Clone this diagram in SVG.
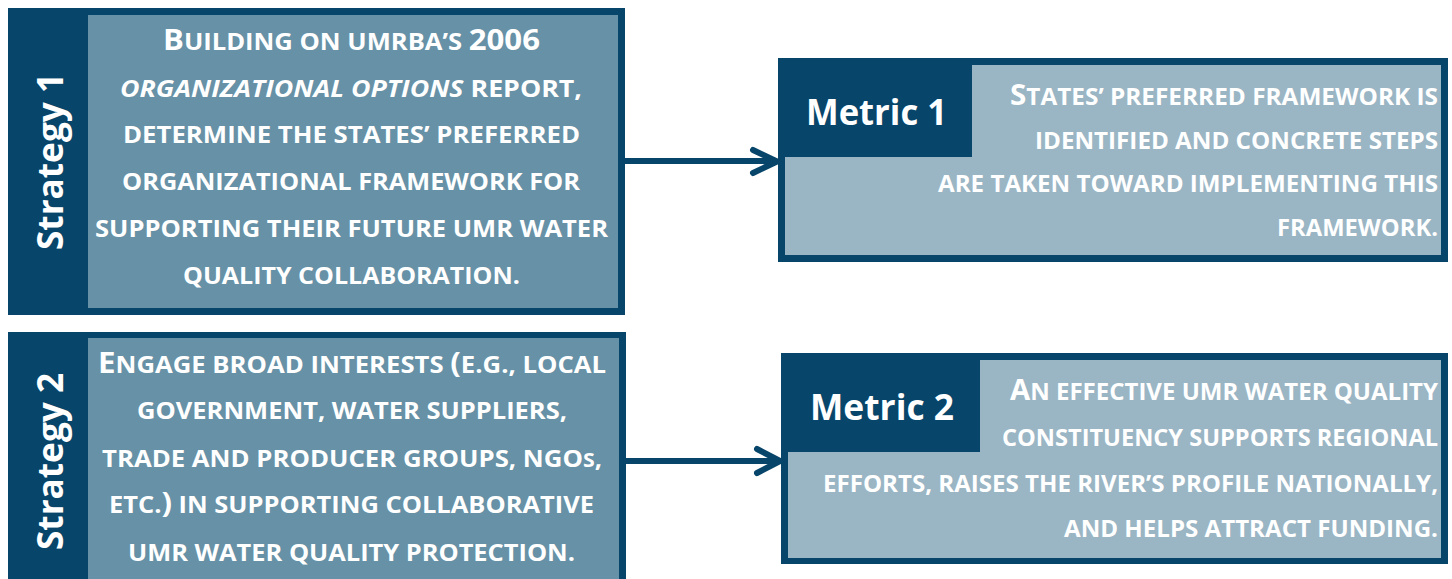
<svg xmlns="http://www.w3.org/2000/svg" width="1452" height="579" viewBox="0 0 1452 579">
<style>
.dark{fill:#08456a}
.spanel{fill:#6691a6}
.mpanel{fill:#9ab5c4}
.t{font-family:"Open Sans","DejaVu Sans",sans-serif;font-weight:700;fill:#ffffff;font-size:23px}
.L{font-size:28px}
.S{font-size:19px}
.lab{font-family:"Open Sans","DejaVu Sans",sans-serif;font-weight:700;fill:#ffffff;font-size:36px}
.conn{fill:none;stroke:#08456a;stroke-width:6;stroke-linecap:round;stroke-linejoin:round}
</style>
<rect width="1452" height="579" fill="#ffffff"/>
<g id="strategy1">
<rect class="dark" x="8" y="8" width="617" height="307"/>
<rect class="spanel" x="88" y="15" width="530" height="293"/>
<text class="lab" transform="translate(63,161.5) rotate(-90)" text-anchor="middle" textLength="177" lengthAdjust="spacingAndGlyphs">Strategy 1</text>
<text class="t" x="163" y="50" textLength="377" lengthAdjust="spacingAndGlyphs"><tspan class="L">B</tspan>UILDING ON UMRBA’S <tspan class="L">2006</tspan></text>
<text class="t" x="120" y="97" textLength="462" lengthAdjust="spacingAndGlyphs"><tspan font-style="italic">ORGANIZATIONAL OPTIONS</tspan> REPORT,</text>
<text class="t" x="123" y="143" textLength="457" lengthAdjust="spacingAndGlyphs">DETERMINE THE STATES’ PREFERRED</text>
<text class="t" x="122" y="190" textLength="458" lengthAdjust="spacingAndGlyphs">ORGANIZATIONAL FRAMEWORK FOR</text>
<text class="t" x="95" y="237" textLength="513" lengthAdjust="spacingAndGlyphs">SUPPORTING THEIR FUTURE UMR WATER</text>
<text class="t" x="183" y="284" textLength="337" lengthAdjust="spacingAndGlyphs">QUALITY COLLABORATION.</text>
</g>
<g id="strategy2">
<rect class="dark" x="8" y="332" width="618" height="247"/>
<rect class="spanel" x="88" y="338" width="531" height="241"/>
<text class="lab" transform="translate(63,461.5) rotate(-90)" text-anchor="middle" textLength="177" lengthAdjust="spacingAndGlyphs">Strategy 2</text>
<text class="t" x="98" y="373" textLength="508" lengthAdjust="spacingAndGlyphs"><tspan class="L">E</tspan>NGAGE BROAD INTERESTS <tspan class="L">(</tspan>E.G., LOCAL</text>
<text class="t" x="137" y="419" textLength="430" lengthAdjust="spacingAndGlyphs">GOVERNMENT, WATER SUPPLIERS,</text>
<text class="t" x="102" y="467" textLength="500" lengthAdjust="spacingAndGlyphs">TRADE AND PRODUCER GROUPS, NGO<tspan class="S">S</tspan>,</text>
<text class="t" x="109" y="513" textLength="485" lengthAdjust="spacingAndGlyphs">ETC.<tspan class="L">)</tspan> IN SUPPORTING COLLABORATIVE</text>
<text class="t" x="128" y="561" textLength="447" lengthAdjust="spacingAndGlyphs">UMR WATER QUALITY PROTECTION.</text>
</g>
<g id="metric1">
<rect class="dark" x="778" y="58" width="670" height="204"/>
<rect class="mpanel" x="785" y="65" width="656" height="190"/>
<rect class="dark" x="778" y="58" width="194" height="99"/>
<text class="lab" x="806" y="125" font-size="35" textLength="141" lengthAdjust="spacingAndGlyphs">Metric 1</text>
<text class="t" x="1010" y="105" textLength="428" lengthAdjust="spacingAndGlyphs"><tspan class="L">S</tspan>TATES’ PREFERRED FRAMEWORK IS</text>
<text class="t" x="1035" y="149" textLength="403" lengthAdjust="spacingAndGlyphs">IDENTIFIED AND CONCRETE STEPS</text>
<text class="t" x="938" y="192" textLength="500" lengthAdjust="spacingAndGlyphs">ARE TAKEN TOWARD IMPLEMENTING THIS</text>
<text class="t" x="1277" y="236" textLength="161" lengthAdjust="spacingAndGlyphs">FRAMEWORK.</text>
</g>
<g id="metric2">
<rect class="dark" x="781" y="353" width="667" height="211"/>
<rect class="mpanel" x="788" y="360" width="653" height="198"/>
<rect class="dark" x="781" y="353" width="199" height="99"/>
<text class="lab" x="810" y="420" font-size="35" textLength="144" lengthAdjust="spacingAndGlyphs">Metric 2</text>
<text class="t" x="1010" y="400" textLength="428" lengthAdjust="spacingAndGlyphs"><tspan class="L">A</tspan>N EFFECTIVE UMR WATER QUALITY</text>
<text class="t" x="1002" y="446" textLength="436" lengthAdjust="spacingAndGlyphs">CONSTITUENCY SUPPORTS REGIONAL</text>
<text class="t" x="823" y="492" textLength="615" lengthAdjust="spacingAndGlyphs">EFFORTS, RAISES THE RIVER’S PROFILE NATIONALLY,</text>
<text class="t" x="1064" y="537" textLength="374" lengthAdjust="spacingAndGlyphs">AND HELPS ATTRACT FUNDING.</text>
</g>
<g id="connectors">
<path class="conn" d="M625,161 H775 M753,150 L777,161.5 L753,173"/>
<path class="conn" d="M626,461 H778 M757,449 L780,461 L757,473"/>
</g>
</svg>
